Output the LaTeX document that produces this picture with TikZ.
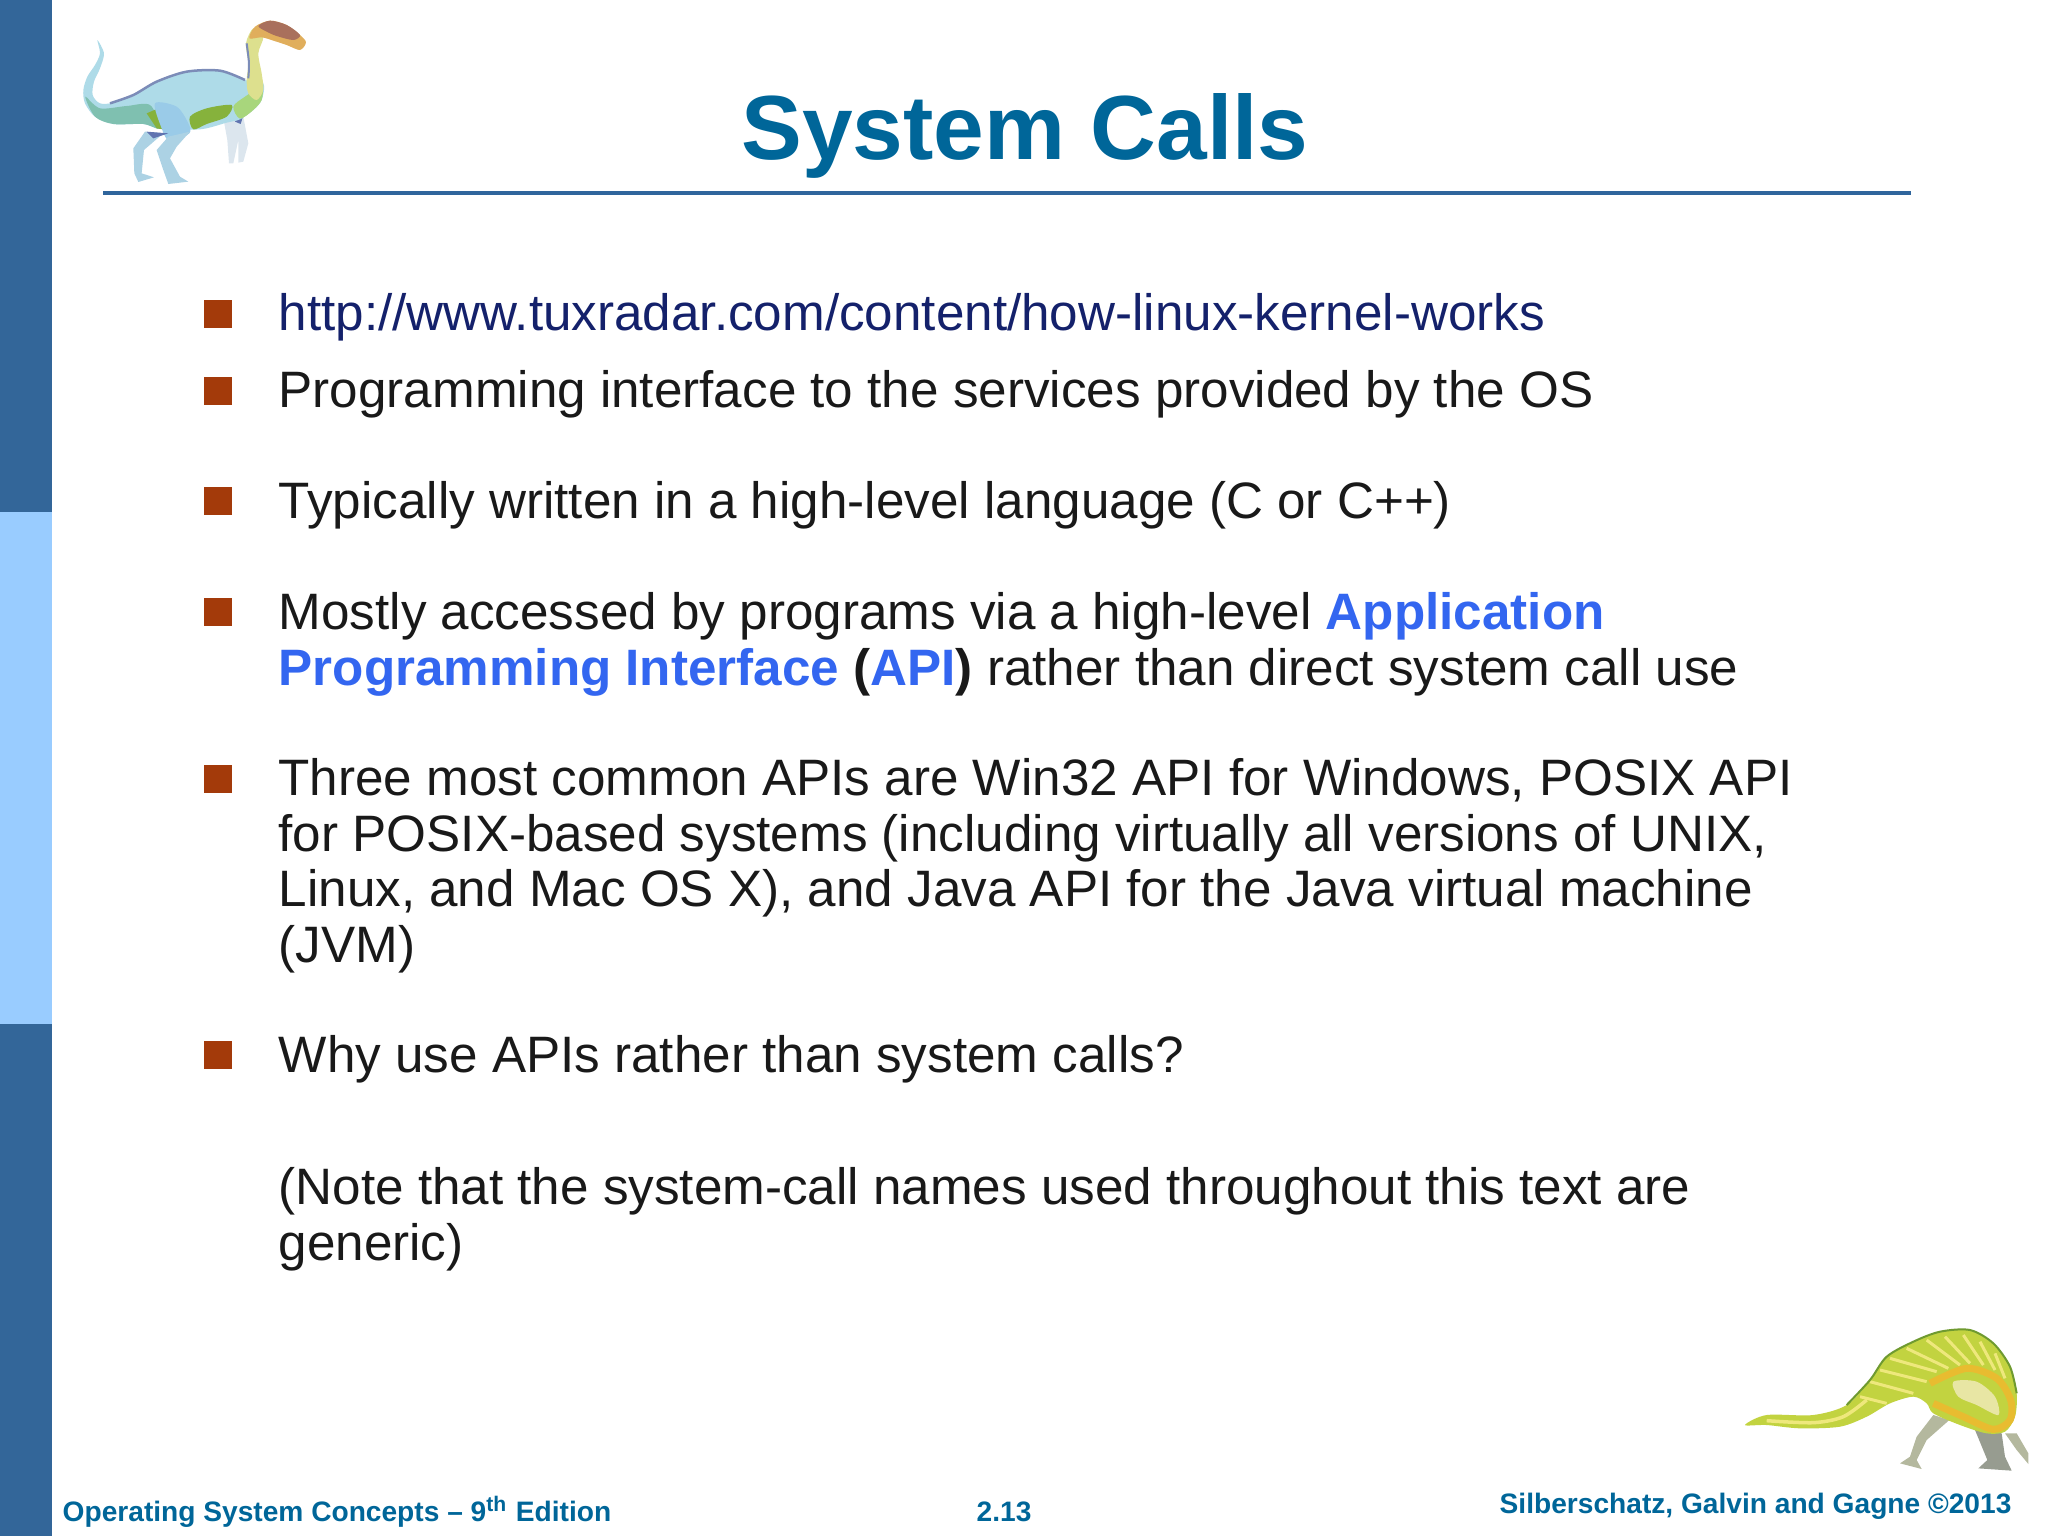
\documentclass[tikz,border=0pt]{standalone}
\usepackage{fontspec}
\setmainfont{Liberation Sans}
\definecolor{sidedark}{HTML}{336699}
\definecolor{sidelight}{HTML}{99CCFF}
\definecolor{titleblue}{HTML}{006699}
\definecolor{rulecol}{HTML}{2F659C}
\definecolor{bulletcol}{HTML}{A33A0A}
\definecolor{linkcol}{HTML}{14216B}
\definecolor{apiblue}{HTML}{3366F0}
\definecolor{gbody}{HTML}{AEDBE8}
\definecolor{gtail}{HTML}{7FC0B0}
\definecolor{gbelly}{HTML}{86B23C}
\definecolor{gchest}{HTML}{A8D67C}
\definecolor{gthigh}{HTML}{9ACBE8}
\definecolor{gback}{HTML}{7C8CB8}
\definecolor{gleg}{HTML}{ACD2E4}
\definecolor{garm}{HTML}{DCE6EE}
\definecolor{ghip}{HTML}{6074B0}
\definecolor{gneck}{HTML}{DDE08E}
\definecolor{ghead}{HTML}{E0AE5C}
\definecolor{gcrown}{HTML}{A9705C}
\definecolor{ygreen}{HTML}{C2D340}
\definecolor{yedge}{HTML}{6F9A30}
\definecolor{ylight}{HTML}{EEE87C}
\definecolor{yband}{HTML}{E8BC30}
\definecolor{ypale}{HTML}{E8E6A4}
\definecolor{ylegs}{HTML}{B4B89E}
\definecolor{ylegd}{HTML}{979C90}
\newcommand{\apiword}[1]{\textcolor{apiblue}{\textbf{#1}}}

\begin{document}
\begin{tikzpicture}[x=0.01cm,y=-0.01cm,
  bodytext/.style={anchor=base west,inner sep=0pt,align=left,text=black!90,font=\fontsize{14.56}{15.75}\selectfont},
  bulletbox/.style={fill=bulletcol,minimum size=0.28cm,inner sep=0pt},
  foottext/.style={anchor=base west,inner sep=0pt,text=titleblue,font=\fontsize{8}{10}\selectfont\bfseries}]
\useasboundingbox (0,0) rectangle (2048,1536);

%Side bar and rule under the title
\fill[sidedark] (0,0) rectangle (52,512);
\fill[sidelight] (0,512) rectangle (52,1024);
\fill[sidedark] (0,1024) rectangle (52,1536);
\fill[rulecol] (103,191) rectangle (1911,195);
\node[anchor=base,inner sep=0pt,text=titleblue,font=\fontsize{25.9}{30}\selectfont\bfseries] (title) at (1025,159) {System Calls};

%Bullets
\node[bulletbox] (b1) at (218,314) {};
\node[bulletbox] (b2) at (218,391) {};
\node[bulletbox] (b3) at (218,501) {};
\node[bulletbox] (b4) at (218,612) {};
\node[bulletbox] (b5) at (218,779) {};
\node[bulletbox] (b6) at (218,1055) {};

%Text of the bullets
\node[bodytext,text=linkcol] (link) at (278,330) {http://www.tuxradar.com/content/how-linux-kernel-works};
\node[bodytext] (iface) at (278,407) {Programming interface to the services provided by the OS};
\node[bodytext] (lang) at (278,518) {Typically written in a high-level language (C or C++)};
\node[bodytext] (access) at (278,685) {Mostly accessed by programs via a high-level \apiword{Application}\\
  \apiword{Programming Interface} \textbf{(}\apiword{API}\textbf{)} rather than direct system call use};
\node[bodytext] (common) at (278,962) {Three most common APIs are Win32 API for Windows, POSIX API\\
  for POSIX-based systems (including virtually all versions of UNIX,\\
  Linux, and Mac OS X), and Java API for the Java virtual machine\\
  (JVM)};
\node[bodytext] (why) at (278,1072) {Why use APIs rather than system calls?};
\node[bodytext] (note) at (278,1260) {(Note that the system-call names used throughout this text are\\
  generic)};

%Footer
\node[foottext] (edition) at (62,1521) {Operating System Concepts -- 9\textsuperscript{th} Edition};
\node[foottext] (page) at (976,1521) {2.13};
\node[foottext] (authors) at (1499,1513) {Silberschatz, Galvin and Gagne ©2013};

%Dinosaur at the top, in thirds of a pixel
\begin{scope}[scale=1/3]
\fill[gleg] (435,395) -- (490,400) -- (432,450) -- (425,520) -- (462,532) -- (415,546) -- (403,520) -- (400,445) -- cycle;
\fill[garm] (672,365) -- (730,350) -- (745,430) -- (730,485) -- (715,488) -- (715,420) -- (700,490) -- (687,490) -- (682,420) -- cycle;
\fill[ghip] (705,365) -- (732,340) -- (722,372) -- cycle;
\fill[gbody] plot[smooth cycle,tension=0.5] coordinates {(292,120) (312,160) (300,205) (282,245) (278,285) (300,310) (340,308) (400,285) (470,245) (560,215) (660,212) (735,240) (790,250) (785,300) (760,330) (720,358) (680,368) (600,388) (480,385) (430,372) (340,372) (285,350) (255,310) (250,270) (262,230) (285,195) (300,160)};
\fill[gtail] plot[smooth cycle,tension=0.5] coordinates {(256,290) (300,325) (380,318) (450,315) (480,385) (430,372) (340,372) (285,350)};
\fill[gchest] plot[smooth cycle,tension=0.5] coordinates {(700,320) (735,290) (785,262) (785,300) (760,330) (720,356)};
\fill[gbelly] plot[smooth cycle,tension=0.5] coordinates {(570,350) (620,325) (695,315) (680,350) (620,372) (580,388)};
\fill[gbelly] (440,340) -- (475,325) -- (500,390) -- (470,385) -- cycle;
\fill[gthigh] plot[smooth cycle,tension=0.5] coordinates {(465,310) (530,320) (565,370) (568,400) (510,425) (485,385)};
\fill[gleg] (505,410) -- (570,395) -- (530,440) -- (510,475) -- (540,530) -- (565,545) -- (505,552) -- (490,510) -- (470,450) -- cycle;
\fill[ghip] (440,395) -- (505,400) -- (460,415) -- cycle;
\fill[gneck] plot[smooth cycle,tension=0.5] coordinates {(740,240) (745,190) (738,130) (760,85) (790,110) (775,160) (785,220) (790,270) (770,300) (745,280)};
\fill[ghead] plot[smooth cycle,tension=0.5] coordinates {(748,115) (765,80) (810,62) (860,75) (900,105) (918,127) (900,150) (860,135) (820,122) (785,112)};
\fill[gcrown] plot[smooth cycle,tension=0.5] coordinates {(775,78) (810,62) (860,75) (900,105) (880,120) (830,108) (800,95)};
\draw[gback,line width=0.025cm] plot[smooth,tension=0.5] coordinates {(330,310) (400,285) (470,245) (560,215) (660,212) (735,240)};
\draw[gback,line width=0.02cm] plot[smooth,tension=0.5] coordinates {(745,235) (747,190) (740,130)};
\end{scope}

%Dinosaur at the bottom
\begin{scope}[shift={(1700,1300)},scale=1/3]
\fill[ylegs] (915,400) -- (950,400) -- (985,460) -- (985,492) -- (950,450) -- cycle;
\fill[ylegs] (700,345) -- (748,360) -- (680,420) -- (650,480) -- (665,507) -- (600,490) -- (630,470) -- (650,410) -- cycle;
\fill[ylegd] (825,390) -- (905,400) -- (915,470) -- (935,512) -- (835,505) -- (862,480) -- cycle;
\fill[ygreen] plot[smooth cycle,tension=0.5] coordinates {(135,375) (200,345) (340,345) (440,315) (510,240) (560,170) (640,125) (720,95) (810,90) (880,130) (930,200) (950,280) (945,350) (915,395) (860,400) (780,375) (700,340) (680,310) (640,290) (570,310) (500,350) (420,380) (300,385) (200,375)};
\draw[ylight,line width=0.035cm] plot[smooth,tension=0.5] coordinates {(200,362) (340,368) (430,350) (500,300)};
\draw[ylight,line width=0.03cm] (480,290) -- (560,310);
\draw[ylight,line width=0.03cm] (510,245) -- (640,280);
\draw[ylight,line width=0.03cm] (540,210) -- (680,245);
\draw[ylight,line width=0.03cm] (570,175) -- (710,215);
\draw[ylight,line width=0.03cm] (620,145) -- (745,205);
\draw[ylight,line width=0.03cm] (680,120) -- (780,195);
\draw[ylight,line width=0.03cm] (735,110) -- (810,190);
\draw[ylight,line width=0.03cm] (790,105) -- (850,195);
\draw[ylight,line width=0.03cm] (840,125) -- (885,210);
\draw[ylight,line width=0.03cm] (885,160) -- (915,235);
\fill[ypale] plot[smooth cycle,tension=0.5] coordinates {(760,245) (830,245) (885,290) (895,345) (830,315) (775,290)};
\draw[yband,line width=0.07cm] plot[smooth,tension=0.5] coordinates {(690,250) (800,205) (890,235) (932,300) (930,360) (880,388) (790,350) (700,310)};
\draw[yedge,line width=0.02cm] plot[smooth,tension=0.5] coordinates {(440,315) (510,240) (560,170) (640,125) (720,95) (810,90) (880,130) (930,200) (950,280)};
\end{scope}
\end{tikzpicture}
\end{document}
